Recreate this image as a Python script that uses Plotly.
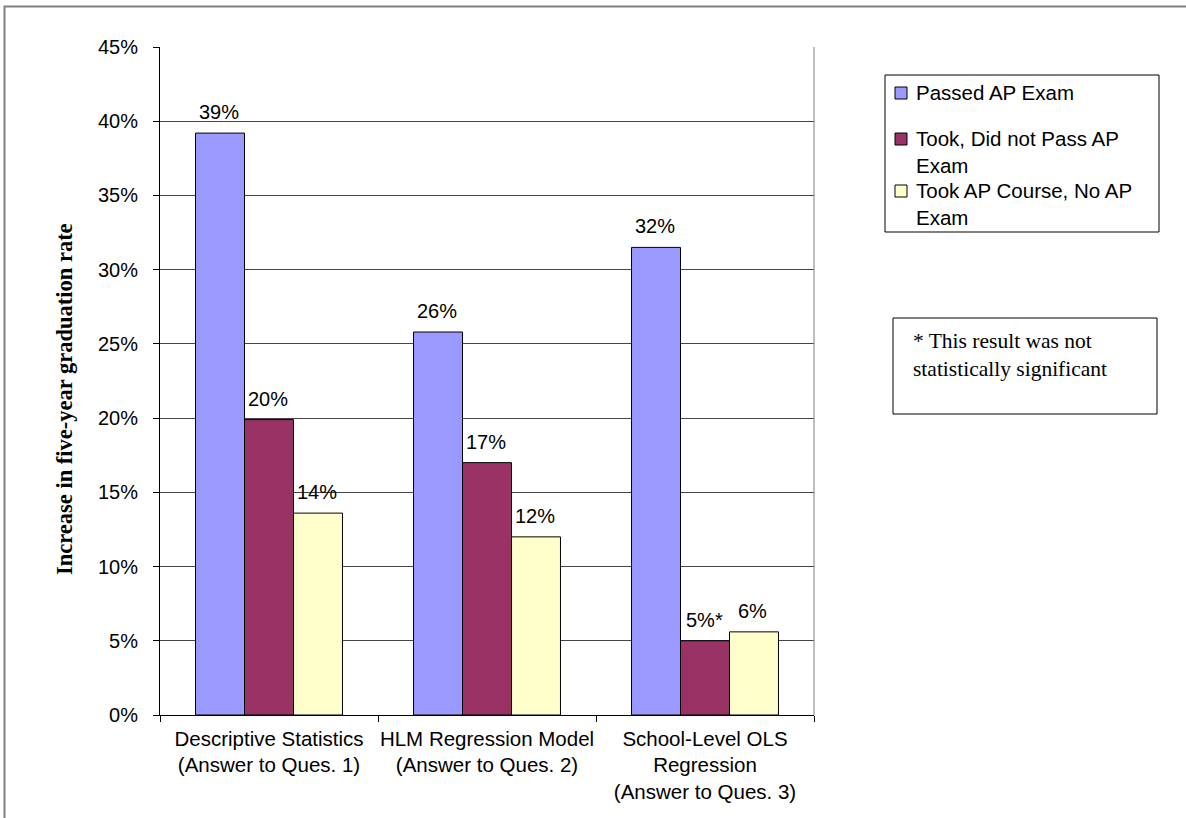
import plotly.graph_objects as go

# ---- data ----
categories = [
    "Descriptive Statistics<br>(Answer to Ques. 1)",
    "HLM Regression Model<br>(Answer to Ques. 2)",
    "School-Level OLS<br>Regression<br>(Answer to Ques. 3)",
]
series_names = ["Passed AP Exam", "Took, Did not Pass AP Exam", "Took AP Course, No AP Exam"]
legend_labels = ["Passed AP Exam", "Took, Did not Pass AP<br>Exam", "Took AP Course, No AP<br>Exam"]
passed = [39.2, 25.8, 31.5]
took_not_pass = [19.9, 17.0, 5.0]
course_no_exam = [13.6, 12.0, 5.6]
significant = [
    [True, True, True],
    [True, True, False],
    [True, True, True],
]
colors = ["#9999FF", "#993366", "#FFFFCC"]
y_title = "Increase in five-year graduation rate"
note_text = "* This result was not<br>statistically significant"

SANS = "Liberation Sans, Arial, sans-serif"
SERIF = "Liberation Serif, Times New Roman, serif"

# layout geometry (pixels)
W, H = 1186, 818
L, R, T, B = 160, 372, 47, 103
PW, PH = W - L - R, H - T - B
BARGAP = 0.326
n_series = 3
bar_px = PW / len(categories) * (1 - BARGAP) / n_series


def px(x):
    return (x - L) / PW


def py(y):
    return (H - B - y) / PH


fig = go.Figure()
shapes = []
annotations = []

all_series = [passed, took_not_pass, course_no_exam]
for i, (name, vals) in enumerate(zip(series_names, all_series)):
    fig.add_trace(go.Bar(
        x=categories, y=vals, name=name,
        marker=dict(color=colors[i], line=dict(color="#000000", width=1)),
    ))
    for j, v in enumerate(vals):
        label = f"{round(v)}%" + ("" if significant[i][j] else "*")
        annotations.append(dict(
            xref="x", yref="y", x=categories[j], y=v,
            xshift=(i - (n_series - 1) / 2) * bar_px - 1, yshift=21,
            xanchor="center", yanchor="middle", showarrow=False,
            text=label, font=dict(family=SANS, size=20, color="#000000"),
        ))

# outer frame
shapes.append(dict(type="rect", xref="paper", yref="paper",
                   x0=px(4.5), x1=px(1250), y0=py(900), y1=py(6.5),
                   line=dict(color="#808080", width=2), fillcolor="rgba(0,0,0,0)"))
# right border of plot area
shapes.append(dict(type="line", xref="paper", yref="paper", x0=1, x1=1, y0=0, y1=1,
                   line=dict(color="#808080", width=1)))

# legend box
shapes.append(dict(type="rect", xref="paper", yref="paper",
                   x0=px(885), x1=px(1159), y0=py(232), y1=py(75),
                   line=dict(color="#000000", width=1), fillcolor="#FFFFFF"))
item_centers = [93, 139, 191]
for i, lab in enumerate(legend_labels):
    c = item_centers[i]
    shapes.append(dict(type="rect", xref="paper", yref="paper",
                       x0=px(895), x1=px(907), y0=py(c + 6), y1=py(c - 6),
                       line=dict(color="#000000", width=1), fillcolor=colors[i]))
    annotations.append(dict(xref="paper", yref="paper", x=px(914), y=py(c - 14),
                            xanchor="left", yanchor="top", align="left", showarrow=False,
                            text=lab, font=dict(family=SANS, size=20.5, color="#000000")))

# note box
shapes.append(dict(type="rect", xref="paper", yref="paper",
                   x0=px(893), x1=px(1157), y0=py(414), y1=py(318),
                   line=dict(color="#000000", width=1), fillcolor="#FFFFFF"))
annotations.append(dict(xref="paper", yref="paper", x=px(911), y=py(327),
                        xanchor="left", yanchor="top", align="left", showarrow=False,
                        text=note_text, font=dict(family=SERIF, size=21.5, color="#000000")))

# y-axis title
annotations.append(dict(xref="paper", yref="paper", x=px(65), y=py(399),
                        xanchor="center", yanchor="middle", textangle=-90, showarrow=False,
                        text=f"<b>{y_title}</b>", font=dict(family=SERIF, size=22.5, color="#000000")))

fig.update_layout(
    width=W, height=H,
    margin=dict(l=L, r=R, t=T, b=B, pad=0, autoexpand=False),
    paper_bgcolor="#FFFFFF", plot_bgcolor="#FFFFFF",
    barmode="group", bargap=BARGAP, bargroupgap=0,
    showlegend=False,
    shapes=shapes, annotations=annotations,
    font=dict(family=SANS, size=20, color="#000000"),
)
fig.update_xaxes(
    type="category", showgrid=False, showline=True, linecolor="#000000", linewidth=1,
    ticks="outside", tickson="boundaries", ticklen=6, tickcolor="#000000",
    tickfont=dict(family=SANS, size=20.5, color="#000000"),
    tickangle=0, automargin=False,
    ticklabelstandoff=5,
)
fig.update_yaxes(
    range=[0, 45], dtick=5, ticksuffix="%",
    showgrid=True, gridcolor="#444444", gridwidth=1,
    showline=True, linecolor="#000000", linewidth=1,
    ticks="outside", ticklen=6, tickcolor="#000000",
    tickfont=dict(family=SANS, size=20, color="#000000"),
    ticklabelstandoff=11, automargin=False,
    zeroline=False,
)

fig.write_html("out.html")
